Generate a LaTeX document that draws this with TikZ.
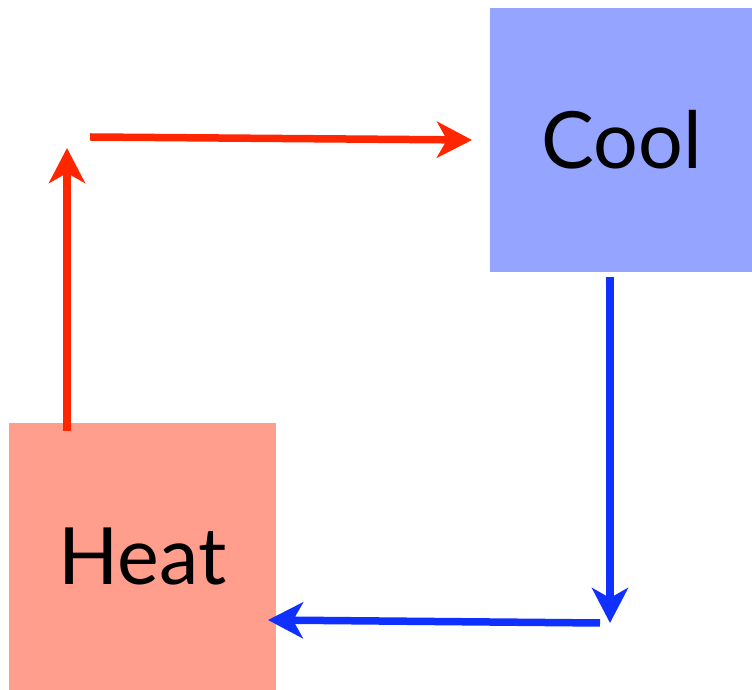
\documentclass[tikz,border=0pt]{standalone}
\usepackage{fontspec}
\setmainfont{Lato}
\usetikzlibrary{arrows.meta}
\definecolor{heatfill}{RGB}{255,158,140}
\definecolor{coolfill}{RGB}{148,164,255}
\definecolor{redline}{RGB}{255,38,0}
\definecolor{blueline}{RGB}{16,48,255}
\begin{document}
\begin{tikzpicture}[x=1pt,y=1pt,
	box/.style={minimum width=#1,minimum height=#1,inner sep=0pt,font=\fontsize{79}{84}\selectfont},
	flow/.style={line width=7.5pt,-{Stealth[length=35pt,width=36pt,inset=10pt]}}]
	\useasboundingbox (0,0) rectangle (752,690);
	\node[box=267pt,fill=heatfill] (heat) at (142.5,133.5) {Heat};
	\node[box=264pt,fill=coolfill] (cool) at (621.5,550) {Cool};
	\coordinate (heatout) at (67,259);
	\coordinate (upend) at (67,542);
	\coordinate (topstart) at (90,553);
	\coordinate (coolin) at (472,550);
	\coordinate (coolout) at (610,413);
	\coordinate (downend) at (610,67);
	\coordinate (botstart) at (600,67);
	\coordinate (heatin) at (268,70);
	\draw[flow,redline] (heatout) -- (upend);
	\draw[flow,redline] (topstart) -- (coolin);
	\draw[flow,blueline] (coolout) -- (downend);
	\draw[flow,blueline] (botstart) -- (heatin);
\end{tikzpicture}
\end{document}
